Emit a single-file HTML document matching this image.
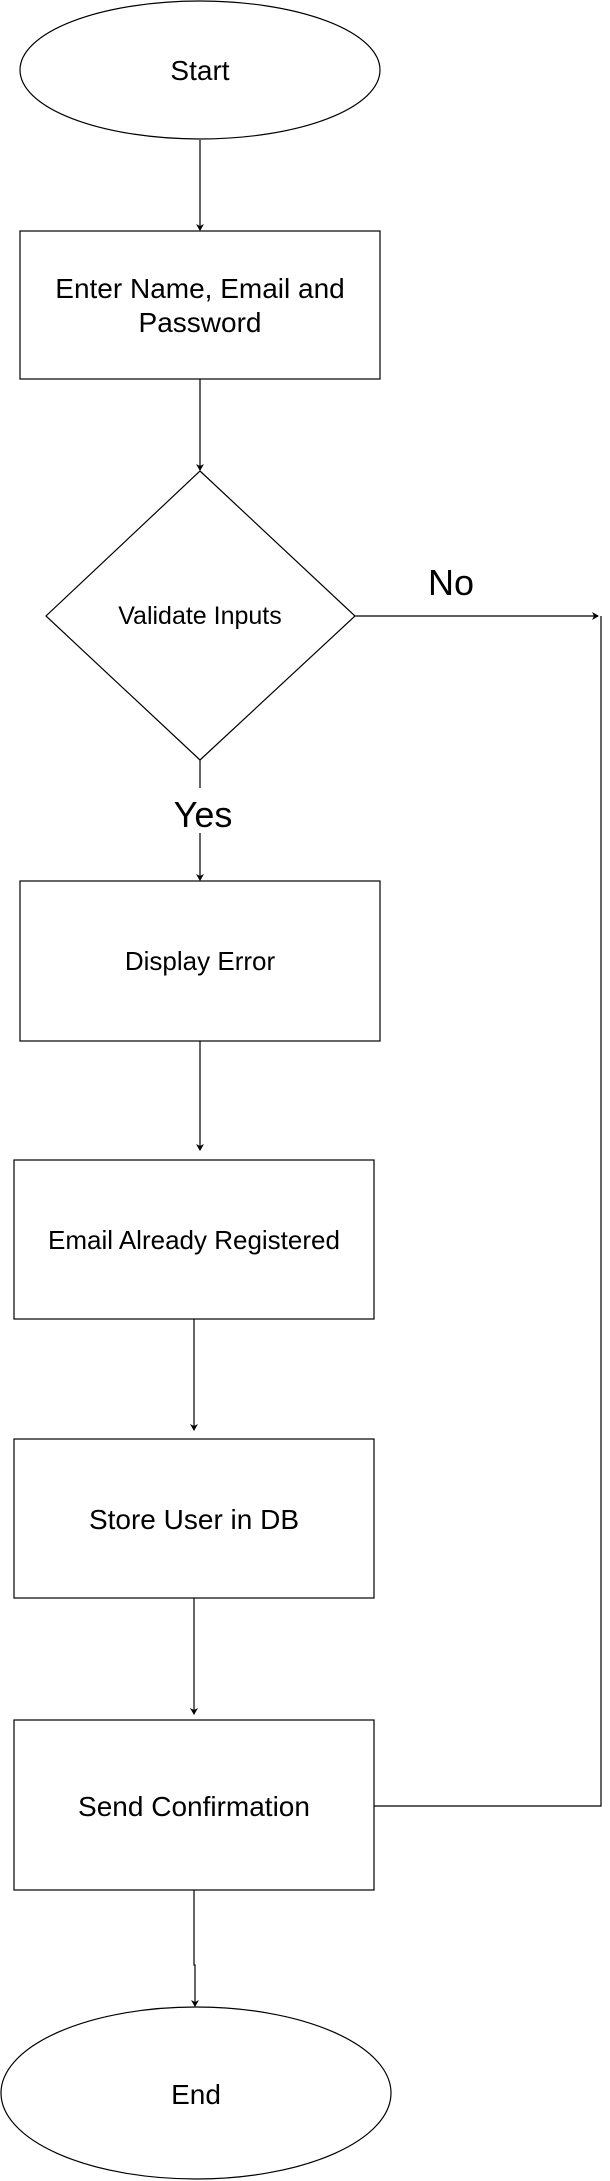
<!DOCTYPE html>
<html><head><meta charset="utf-8"><style>
html,body{margin:0;padding:0;background:#fff;}
svg{display:block;}
text{font-family:"Liberation Sans",Arial,sans-serif;fill:#000;text-anchor:middle;}
</style></head><body>
<svg width="610" height="2181" viewBox="0 0 610 2181" xmlns="http://www.w3.org/2000/svg">
<defs><marker id="a" markerWidth="8" markerHeight="8" refX="6" refY="4" orient="auto" markerUnits="userSpaceOnUse"><path d="M0,0 L7,4 L0,8 L2,4 Z" fill="#000"/></marker></defs>
<g fill="#fff" stroke="#000" stroke-width="1.2">
<ellipse cx="200" cy="70" rx="180" ry="69"/>
<rect x="20" y="231" width="360" height="148"/>
<polygon points="200,471 355,616 200,760 46,616"/>
<rect x="20" y="881" width="360" height="160"/>
<rect x="14" y="1160" width="360" height="159"/>
<rect x="14" y="1439" width="360" height="159"/>
<rect x="14" y="1720" width="360" height="170"/>
<ellipse cx="196" cy="2093" rx="195" ry="86"/>
</g>
<g stroke="#000" stroke-width="1.2" fill="none">
<line x1="200" y1="140" x2="200" y2="230" marker-end="url(#a)"/>
<line x1="200" y1="379" x2="200" y2="470" marker-end="url(#a)"/>
<line x1="355" y1="616" x2="598" y2="616" marker-end="url(#a)"/>
<polyline points="374,1806 601,1806 601,616"/>
<line x1="200" y1="760" x2="200" y2="788"/>
<line x1="200" y1="833" x2="200" y2="880" marker-end="url(#a)"/>
<line x1="200" y1="1041" x2="200" y2="1150" marker-end="url(#a)"/>
<line x1="194" y1="1319" x2="194" y2="1430" marker-end="url(#a)"/>
<line x1="194" y1="1598" x2="194" y2="1714" marker-end="url(#a)"/>
<polyline points="194,1890 194,1965 195,1965 195,2006" marker-end="url(#a)"/>
</g>
<text x="200" y="80" font-size="28">Start</text>
<text x="200" y="298" font-size="28">Enter Name, Email and</text>
<text x="200" y="332" font-size="28">Password</text>
<text x="200" y="624" font-size="25">Validate Inputs</text>
<text x="451" y="595" font-size="36">No</text>
<text x="203" y="827" font-size="36">Yes</text>
<text x="200" y="970" font-size="26">Display Error</text>
<text x="194" y="1249" font-size="26">Email Already Registered</text>
<text x="194" y="1529" font-size="28">Store User in DB</text>
<text x="194" y="1816" font-size="28">Send Confirmation</text>
<text x="196" y="2104" font-size="28">End</text>
</svg>
</body></html>
